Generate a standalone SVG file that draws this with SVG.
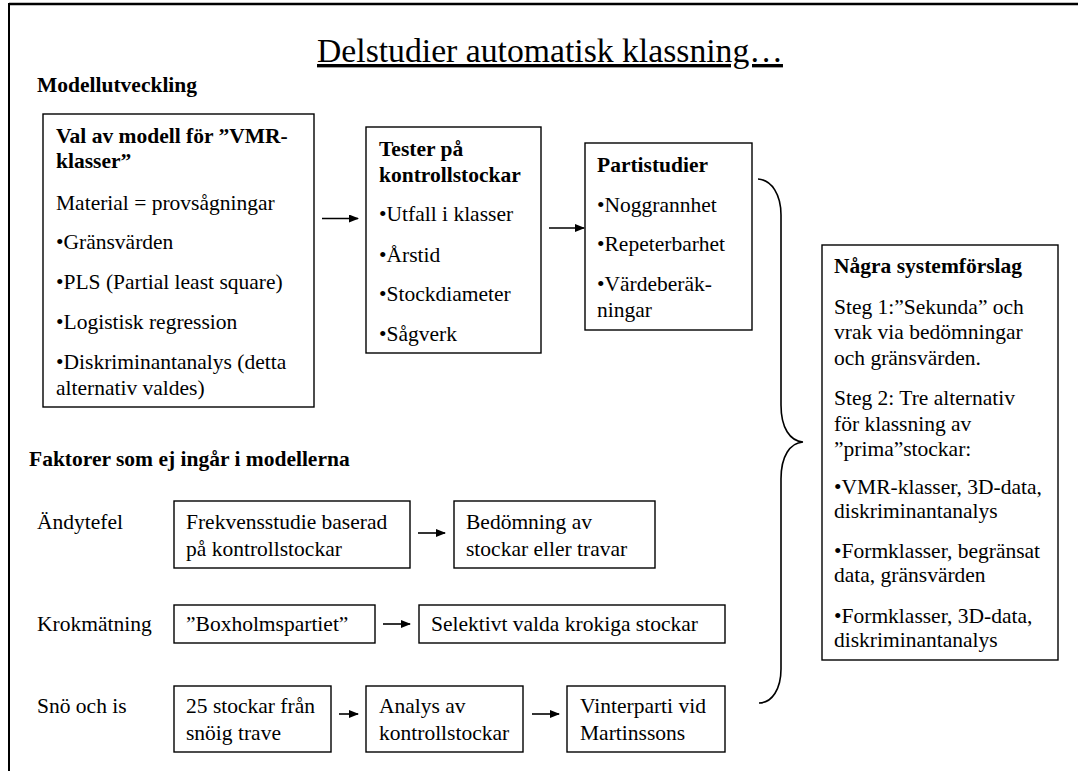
<svg xmlns="http://www.w3.org/2000/svg" width="1078" height="771" viewBox="0 0 1078 771">
<style>
text{font-family:'Liberation Serif',Tinos,'Times New Roman',serif;font-size:21.5px;fill:#000}
.b{font-weight:bold}
.box{fill:#fff;stroke:#000;stroke-width:1.4}
.con{stroke:#000;stroke-width:1.6;fill:none}
</style>
<defs>
<marker id="ah" markerWidth="10" markerHeight="8" refX="9" refY="4" orient="auto" markerUnits="userSpaceOnUse">
<path d="M0,0 L10,4 L0,8 Z" fill="#000"/>
</marker>
</defs>
<rect width="1078" height="771" fill="#fff"/>
<g id="frame">
<line x1="9" y1="4" x2="1078" y2="4" stroke="#000" stroke-width="2.5"/>
<line x1="9" y1="3" x2="9" y2="771" stroke="#000" stroke-width="2"/>
</g>
<g id="title">
<text x="550" y="62" text-anchor="middle" style="font-size:33.7px" text-decoration="underline">Delstudier automatisk klassning…</text>
</g>
<g id="heading-modell"><text class="b" x="37" y="92">Modellutveckling</text></g>
<g id="node-val">
<rect class="box" x="43" y="114" width="271" height="293"/>
<text class="b" x="56" y="143">Val av modell för ”VMR-</text>
<text class="b" x="56" y="168">klasser”</text>
<text x="56" y="210">Material = provsågningar</text>
<text x="56" y="249">•Gränsvärden</text>
<text x="56" y="289">•PLS (Partial least square)</text>
<text x="56" y="329">•Logistisk regression</text>
<text x="56" y="369">•Diskriminantanalys (detta</text>
<text x="56" y="395">alternativ valdes)</text>
</g>
<g id="node-tester">
<rect class="box" x="366" y="127" width="175" height="226"/>
<text class="b" x="379" y="156">Tester på</text>
<text class="b" x="379" y="182">kontrollstockar</text>
<text x="379" y="221">•Utfall i klasser</text>
<text x="379" y="262">•Årstid</text>
<text x="379" y="301">•Stockdiameter</text>
<text x="379" y="341">•Sågverk</text>
</g>
<g id="node-parti">
<rect class="box" x="585" y="143" width="167" height="187"/>
<text class="b" x="597" y="172">Partistudier</text>
<text x="597" y="212">•Noggrannhet</text>
<text x="597" y="251">•Repeterbarhet</text>
<text x="597" y="291">•Värdeberäk-</text>
<text x="597" y="317">ningar</text>
</g>
<g id="node-system">
<rect class="box" x="822" y="245" width="236" height="415"/>
<text class="b" x="834" y="273">Några systemförslag</text>
<text x="834" y="314">Steg 1:”Sekunda” och</text>
<text x="834" y="339">vrak via bedömningar</text>
<text x="834" y="365">och gränsvärden.</text>
<text x="834" y="405">Steg 2: Tre alternativ</text>
<text x="834" y="431">för klassning av</text>
<text x="834" y="456">”prima”stockar:</text>
<text x="834" y="494">•VMR-klasser, 3D-data,</text>
<text x="834" y="518">diskriminantanalys</text>
<text x="834" y="558">•Formklasser, begränsat</text>
<text x="834" y="582">data, gränsvärden</text>
<text x="834" y="623">•Formklasser, 3D-data,</text>
<text x="834" y="647">diskriminantanalys</text>
</g>
<g id="heading-faktorer"><text class="b" x="29" y="466">Faktorer som ej ingår i modellerna</text></g>
<g id="label-andytefel"><text x="37" y="529">Ändytefel</text></g>
<g id="node-frekvens">
<rect class="box" x="174" y="501" width="236" height="67"/>
<text x="186" y="529">Frekvensstudie baserad</text>
<text x="186" y="556">på kontrollstockar</text>
</g>
<g id="node-bedomning">
<rect class="box" x="454" y="501" width="201" height="67"/>
<text x="466" y="529">Bedömning av</text>
<text x="466" y="556">stockar eller travar</text>
</g>
<g id="label-krok"><text x="37" y="631">Krokmätning</text></g>
<g id="node-boxholm">
<rect class="box" x="174" y="605" width="201" height="38"/>
<text x="186" y="631">”Boxholmspartiet”</text>
</g>
<g id="node-selektivt">
<rect class="box" x="419" y="605" width="306" height="38"/>
<text x="431" y="631">Selektivt valda krokiga stockar</text>
</g>
<g id="label-sno"><text x="37" y="713">Snö och is</text></g>
<g id="node-25">
<rect class="box" x="174" y="686" width="157" height="66"/>
<text x="186" y="713">25 stockar från</text>
<text x="186" y="740">snöig trave</text>
</g>
<g id="node-analys">
<rect class="box" x="366" y="686" width="157" height="66"/>
<text x="379" y="713">Analys av</text>
<text x="379" y="740">kontrollstockar</text>
</g>
<g id="node-vinter">
<rect class="box" x="567" y="686" width="158" height="66"/>
<text x="580" y="713">Vinterparti vid</text>
<text x="580" y="740">Martinssons</text>
</g>
<g id="connectors">
<line class="con" x1="322" y1="218.5" x2="358" y2="218.5" marker-end="url(#ah)"/>
<line class="con" x1="549" y1="228" x2="584" y2="228" marker-end="url(#ah)"/>
<line class="con" x1="418" y1="533" x2="445" y2="533" marker-end="url(#ah)"/>
<line class="con" x1="383" y1="624" x2="410" y2="624" marker-end="url(#ah)"/>
<line class="con" x1="339" y1="714" x2="358" y2="714" marker-end="url(#ah)"/>
<line class="con" x1="532" y1="714" x2="559" y2="714" marker-end="url(#ah)"/>
<path class="con" d="M758,179 C772,180 781,195 781,215 L781,405 C781,428 790,441 803,442 C790,443 781,456 781,479 L781,669 C781,689 772,703 759,703"/>
</g>
</svg>
